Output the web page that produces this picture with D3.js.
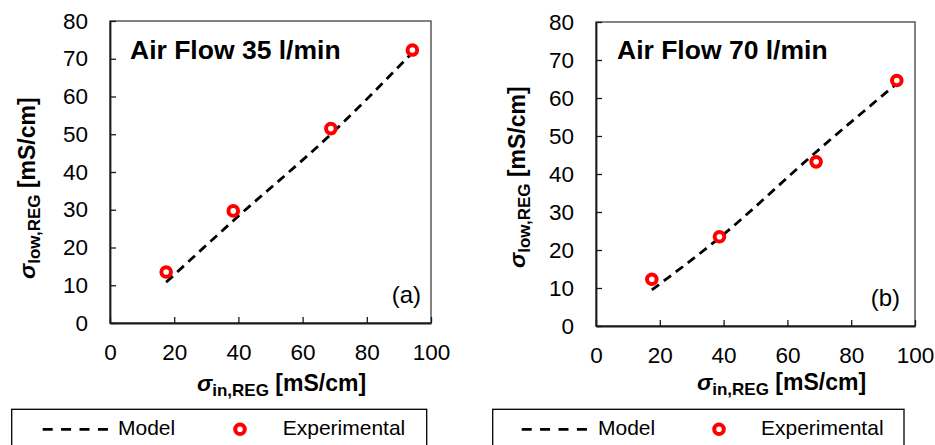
<!DOCTYPE html>
<html>
<head>
<meta charset="utf-8">
<script src="https://cdn.jsdelivr.net/npm/d3@7"></script>
<style>
  body { margin: 0; background: #fff; }
  svg { display: block; }
  text { font-family: "Liberation Sans", Arial, sans-serif; fill: #000; }
</style>
</head>
<body>
<svg id="chart" width="935" height="445"></svg>
<script>
// Axis ticks
const xTickValues = [0, 20, 40, 60, 80, 100];
const yTickValues = [0, 10, 20, 30, 40, 50, 60, 70, 80];

// Panel labels
const panelTitles = ["Air Flow 35 l/min", "Air Flow 70 l/min"];
const panelTags = ["(a)", "(b)"];
const legendLabels = ["Model", "Experimental"];

// Air flow 35 l/min
const expInA = [17.5, 38.4, 68.8, 94.2];
const expLowA = [13.5, 29.7, 51.5, 72.3];
const modelInA = [17.5, 38.4, 68.8, 94.2];
const modelLowA = [10.8, 27.1, 50.0, 71.6];

// Air flow 70 l/min
const expInB = [17.5, 38.7, 69.0, 94.3];
const expLowB = [12.3, 23.5, 43.2, 64.6];
const modelInB = [17.5, 38.7, 69.0, 94.3];
const modelLowB = [9.5, 23.2, 45.8, 63.8];

const panels = [
  {
    title: panelTitles[0], tag: panelTags[0],
    exp: expInA.map((x, i) => ({ x, y: expLowA[i] })),
    model: modelInA.map((x, i) => ({ x, y: modelLowA[i] })),
    box: { x0: 110, x1: 431, y0: 21, y1: 323 },
    titlePos: [130, 59], tagPos: [421, 303],
    xTitle: [197, 391], yTitle: [35, 279],
    legend: { x: 11.7, w: 415, dash: [31, 96.3], model: 106.3, marker: 228.3, exp: 271 }
  },
  {
    title: panelTitles[1], tag: panelTags[1],
    exp: expInB.map((x, i) => ({ x, y: expLowB[i] })),
    model: modelInB.map((x, i) => ({ x, y: modelLowB[i] })),
    box: { x0: 596, x1: 915, y0: 22, y1: 326 },
    titlePos: [617, 59], tagPos: [900, 306],
    xTitle: [697, 390], yTitle: [525, 268],
    legend: { x: 492.7, w: 411.3, dash: [29, 95.3], model: 105.3, marker: 226.3, exp: 268.3 }
  }
];

const svg = d3.select("#chart");
const red = "#ff0000";

panels.forEach(p => {
  const b = p.box;
  const x = d3.scaleLinear().domain([0, 100]).range([b.x0, b.x1]);
  const y = d3.scaleLinear().domain([0, 80]).range([b.y1, b.y0]);
  const g = svg.append("g");

  // plot frame
  g.append("rect")
    .attr("x", b.x0).attr("y", b.y0)
    .attr("width", b.x1 - b.x0).attr("height", b.y1 - b.y0)
    .attr("fill", "none").attr("stroke", "#595959").attr("stroke-width", 1.5);

  // axes, ticks pointing into the plot
  const xAxis = g.append("g").attr("transform", `translate(0,${b.y1})`)
    .call(d3.axisBottom(x).tickValues(xTickValues).tickSizeInner(-6).tickSizeOuter(0).tickPadding(21));
  const yAxis = g.append("g").attr("transform", `translate(${b.x0},0)`)
    .call(d3.axisLeft(y).tickValues(yTickValues).tickSizeInner(-6).tickSizeOuter(0).tickPadding(22));
  [xAxis, yAxis].forEach(a => {
    a.select(".domain").attr("stroke", "#1a1a1a").attr("stroke-width", 1.8);
    a.selectAll(".tick line").attr("stroke", "#1a1a1a").attr("stroke-width", 1.3);
    a.selectAll(".tick text").attr("font-size", 22.5).attr("fill", "#000")
      .style("font-family", '"Liberation Sans", Arial, sans-serif');
  });

  // model curve
  const line = d3.line().x(d => x(d.x)).y(d => y(d.y)).curve(d3.curveMonotoneX);
  g.append("path").datum(p.model)
    .attr("d", line)
    .attr("fill", "none").attr("stroke", "#000")
    .attr("stroke-width", 2.8).attr("stroke-dasharray", "9,6");

  // experimental points
  g.selectAll("circle.exp").data(p.exp).join("circle")
    .attr("class", "exp")
    .attr("cx", d => x(d.x)).attr("cy", d => y(d.y)).attr("r", 4.8)
    .attr("fill", "#fff").attr("stroke", red).attr("stroke-width", 4);

  // panel title and tag
  g.append("text").attr("x", p.titlePos[0]).attr("y", p.titlePos[1])
    .attr("font-size", 26.5).attr("font-weight", "bold").text(p.title);
  g.append("text").attr("x", p.tagPos[0]).attr("y", p.tagPos[1])
    .attr("font-size", 24).attr("text-anchor", "end").text(p.tag);

  // x axis title
  const xt = g.append("text").attr("x", p.xTitle[0]).attr("y", p.xTitle[1])
    .attr("font-size", 23).attr("font-weight", "bold");
  xt.append("tspan").attr("font-style", "italic").text("σ");
  xt.append("tspan").attr("font-size", 17).attr("dy", 5).text("in,REG");
  xt.append("tspan").attr("dy", -5).text(" [mS/cm]");

  // y axis title
  const yt = g.append("text")
    .attr("transform", `translate(${p.yTitle[0]},${p.yTitle[1]}) rotate(-90)`)
    .attr("font-size", 23).attr("font-weight", "bold");
  yt.append("tspan").attr("font-style", "italic").text("σ");
  yt.append("tspan").attr("font-size", 17).attr("dy", 5).text("low,REG");
  yt.append("tspan").attr("dy", -5).text(" [mS/cm]");

  // legend
  const L = p.legend;
  const lg = g.append("g").attr("transform", `translate(${L.x},409.3)`);
  lg.append("rect").attr("x", 0).attr("y", 0).attr("width", L.w).attr("height", 60)
    .attr("fill", "#fff").attr("stroke", "#000").attr("stroke-width", 1.3);
  lg.append("line").attr("x1", L.dash[0]).attr("x2", L.dash[1]).attr("y1", 20).attr("y2", 20)
    .attr("stroke", "#000").attr("stroke-width", 2.8).attr("stroke-dasharray", "10,8.4");
  lg.append("text").attr("x", L.model).attr("y", 26).attr("font-size", 21).text(legendLabels[0]);
  lg.append("circle").attr("cx", L.marker).attr("cy", 20).attr("r", 4.8)
    .attr("fill", "#fff").attr("stroke", red).attr("stroke-width", 4);
  lg.append("text").attr("x", L.exp).attr("y", 26).attr("font-size", 21).text(legendLabels[1]);
});
</script>
</body>
</html>
